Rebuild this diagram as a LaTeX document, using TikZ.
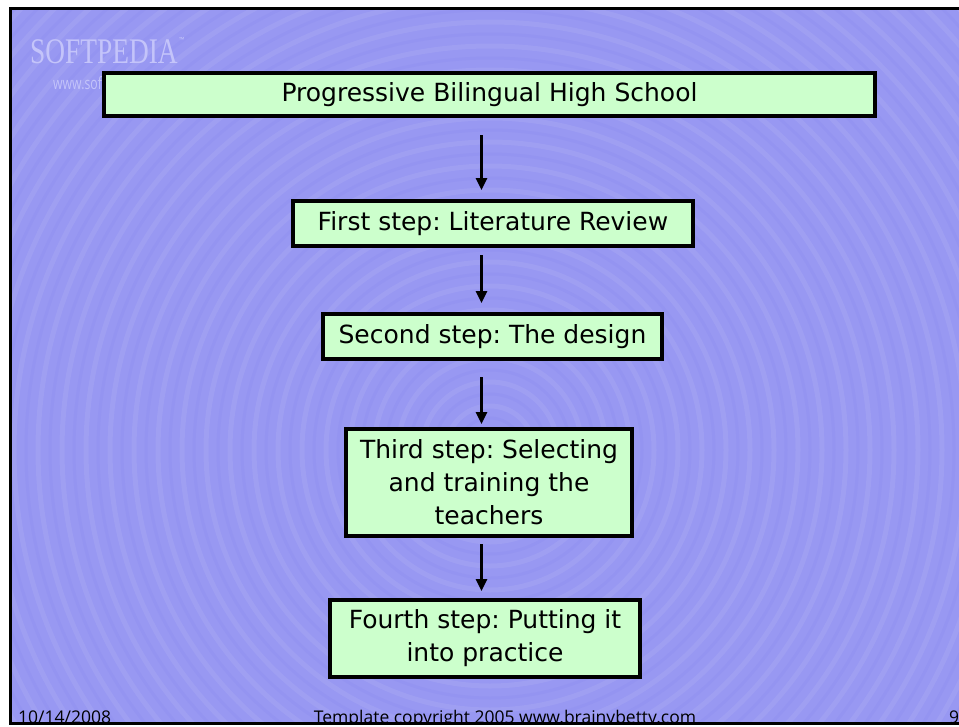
\documentclass[tikz,border=0pt]{standalone}
\usepackage{fontspec}
\setmainfont{Open Sans}
\newfontfamily\boxfont{DejaVu Sans}
\newfontfamily\markfont{Liberation Serif}
\usepackage{graphicx}
\usetikzlibrary{arrows.meta}

\definecolor{slidebg}{RGB}{152,152,242}
\definecolor{ringdark}{RGB}{120,120,238}
\definecolor{boxgreen}{RGB}{204,255,204}
\definecolor{markcol}{RGB}{196,196,250}

\begin{document}
\frenchspacing
\begin{tikzpicture}[x=1pt,y=-1pt,
    stepbox/.style={draw=black, line width=4pt, fill=boxgreen, align=center, inner sep=0pt,
        font=\boxfont\fontsize{25}{33}\selectfont},
    flow/.style={line width=2.6pt, -{Triangle[width=11pt,length=12pt]}},
    foot/.style={anchor=base, inner sep=0pt, font=\fontsize{17.5}{18}\selectfont}]
    \useasboundingbox (0,0) rectangle (959,726);
    \fill[white] (0,0) rectangle (959,726);
    \fill[slidebg] (10,8) rectangle (959,723);

    % swirl rings of the slide background
    \begin{scope}
        \clip (10,8) rectangle (959,723);
        \foreach \r in {20,44,...,760}
            \draw[white, opacity=0.07, line width=5pt] (490,450) circle (\r pt);
        \foreach \r in {32,56,...,760}
            \draw[ringdark, opacity=0.12, line width=3pt] (490,450) circle (\r pt);
    \end{scope}

    % watermark
    \node[markcol, anchor=base west, inner sep=0pt, font=\markfont\fontsize{36}{36}\selectfont] (mark) at (30,63) {\scalebox{0.76}[1]{SOFTPEDIA}};
    \node[markcol, anchor=base west, inner sep=0pt, font=\fontsize{7}{7}\selectfont] (tm) at (179,42) {™};
    \node[markcol, anchor=base west, inner sep=0pt, font=\fontsize{17}{17}\selectfont] (markurl) at (53,89) {\scalebox{0.72}[1]{www.softpedia.com}};

    % the steps
    \node[stepbox, minimum width=771pt, minimum height=43pt] (school) at (489.5,94.5) {Progressive Bilingual High School};
    \node[stepbox, minimum width=400pt, minimum height=45pt] (review) at (493,223.5) {First step: Literature Review};
    \node[stepbox, minimum width=339pt, minimum height=45pt] (design) at (492.5,336.5) {Second step: The design};
    \node[stepbox, minimum width=286pt, minimum height=107pt] (teachers) at (489,482.5) {Third step: Selecting\\and training the\\teachers};
    \node[stepbox, minimum width=310pt, minimum height=77pt] (practice) at (485,638.5) {Fourth step: Putting it\\into practice};

    \coordinate (axis) at (481.5,0);
    \draw[flow, shorten <=17pt, shorten >=9pt] (school.south -| axis) -- (review.north -| axis);
    \draw[flow, shorten <=7pt, shorten >=9pt] (review.south -| axis) -- (design.north -| axis);
    \draw[flow, shorten <=16pt, shorten >=3pt] (design.south -| axis) -- (teachers.north -| axis);
    \draw[flow, shorten <=6pt, shorten >=7pt] (teachers.south -| axis) -- (practice.north -| axis);

    % footer
    \begin{scope}
        \clip (0,0) rectangle (959,721.5);
        \node[foot, anchor=base west] (date) at (18,723.5) {10/14/2008};
        \node[foot] (credit) at (505,723.5) {Template copyright 2005 www.brainybetty.com};
        \node[foot, anchor=base west] (page) at (949,723.5) {9};
    \end{scope}

    \draw[line width=3pt] (959,8) -- (10,8) -- (10,723) -- (959,723);
\end{tikzpicture}
\end{document}
